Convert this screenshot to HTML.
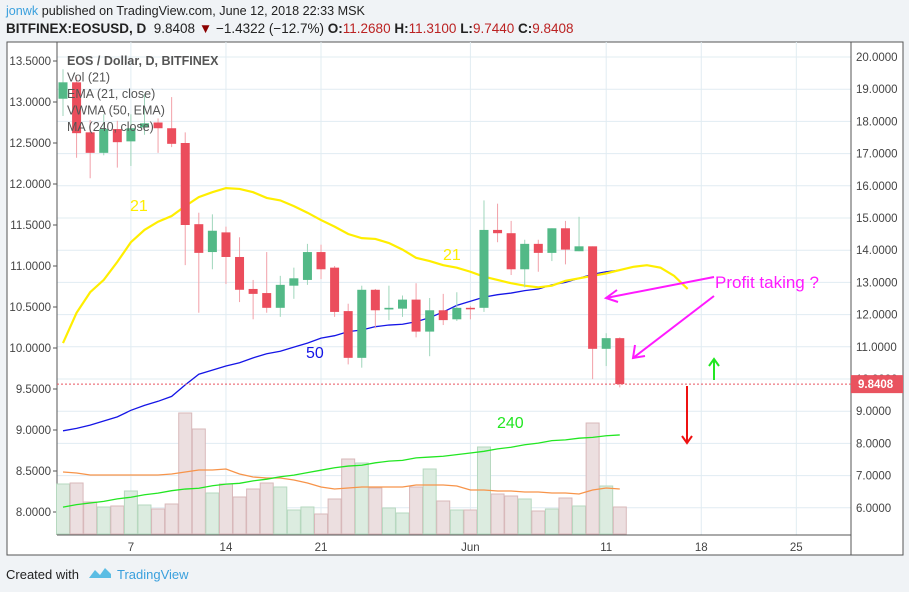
<!DOCTYPE html>
<html><head><meta charset="utf-8"><style>
body{margin:0;width:909px;height:592px;background:#f0f3f6;font-family:"Liberation Sans",sans-serif;overflow:hidden;position:relative}
.t{position:absolute;white-space:nowrap}
</style></head><body>
<div class="t" style="left:6px;top:4px;font-size:12.6px;color:#222"><span style="color:#3aa0dd">jonwk</span> published on TradingView.com, June 12, 2018 22:33 MSK</div>
<div class="t" style="left:6px;top:21px;font-size:13.5px;color:#222"><b>BITFINEX:EOSUSD, D</b>&nbsp; 9.8408 <span style="color:#8b0000">▼</span> −1.4322 (−12.7%) <b>O:</b><span style="color:#b22">11.2680</span> <b>H:</b><span style="color:#b22">11.3100</span> <b>L:</b><span style="color:#b22">9.7440</span> <b>C:</b><span style="color:#b22">9.8408</span></div>
<svg id="c" width="909" height="592" style="position:absolute;left:0;top:0" font-family="Liberation Sans, sans-serif"></svg>
<div class="t" style="left:6px;top:567px;font-size:13px;color:#222">Created with</div>
<svg style="position:absolute;left:88px;top:565px" width="24" height="16"><path d="M1 13 L7 5 L12 10 L17 3 L23 9 L23 13 Z" fill="#5bbde4"/></svg>
<div class="t" style="left:117px;top:567px;font-size:13px;color:#3aa0dd">TradingView</div>
<script>
const opens=[13.04,13.24,12.63,12.38,12.67,12.52,12.69,12.75,12.68,12.5,11.51,11.17,11.41,11.11,10.72,10.67,10.49,10.76,10.83,11.17,10.98,10.45,9.88,10.71,10.47,10.48,10.59,10.2,10.46,10.35,10.49,10.49,11.44,11.4,10.96,11.27,11.16,11.46,11.18,11.24,9.99,10.12];
const highs=[13.4,13.3,12.78,12.85,12.77,12.85,13.1,12.8,13.06,12.63,11.65,11.63,11.48,11.35,10.83,11.17,10.88,10.98,11.27,11.26,11.0,10.54,10.76,10.72,10.76,10.64,10.79,10.61,10.66,10.68,10.51,11.8,11.76,11.55,11.32,11.32,11.46,11.55,11.6,11.24,10.18,10.13];
const lows=[12.83,12.32,12.07,12.35,12.2,12.22,12.6,12.38,12.45,11.01,10.43,10.96,10.78,10.56,10.35,10.43,10.38,10.6,10.77,10.84,10.38,9.8,9.76,10.24,10.34,10.38,10.13,9.9,10.28,10.33,10.35,10.44,11.29,10.89,10.74,10.93,11.06,11.02,11.18,9.62,9.78,9.52];
const closes=[13.24,12.62,12.38,12.67,12.51,12.68,12.74,12.68,12.49,11.5,11.16,11.43,11.11,10.71,10.66,10.49,10.77,10.85,11.17,10.96,10.44,9.88,10.71,10.46,10.49,10.59,10.2,10.46,10.34,10.49,10.48,11.44,11.4,10.96,11.27,11.16,11.46,11.2,11.24,9.99,10.12,9.56];
const volumes=[51,52,33,28,29,44,30,26,31,122,106,42,51,38,46,52,48,25,28,21,36,76,72,47,27,22,48,66,34,25,25,88,41,39,36,24,26,37,29,112,49,28];
const volMA=[63,62,60,60,60,60,60,60,61,63,65,65,66,61,58,57,57,55,52,48,46,47,48,48,48,48,50,50,50,49,45,45,44,44,43,43,42,42,41,45,47,46];
const ema21=[10.06,10.43,10.68,10.83,11.05,11.29,11.44,11.54,11.61,11.73,11.84,11.9,11.95,11.94,11.9,11.83,11.8,11.73,11.65,11.56,11.48,11.39,11.34,11.33,11.28,11.2,11.1,11.06,11.01,10.98,10.93,10.87,10.83,10.79,10.76,10.74,10.76,10.82,10.85,10.88,10.91,10.95,10.99,11.01,10.98,10.88,10.72];
const vwma50=[8.99,9.02,9.06,9.11,9.16,9.24,9.3,9.35,9.41,9.55,9.68,9.73,9.78,9.82,9.88,9.93,9.96,10.01,10.06,10.12,10.15,10.2,10.22,10.26,10.28,10.29,10.32,10.37,10.44,10.52,10.57,10.62,10.65,10.67,10.7,10.72,10.77,10.8,10.85,10.9,10.93,10.95];
const ma240=[8.06,8.09,8.11,8.13,8.16,8.18,8.21,8.23,8.26,8.28,8.29,8.32,8.34,8.35,8.38,8.4,8.43,8.45,8.48,8.51,8.54,8.56,8.57,8.6,8.62,8.63,8.66,8.67,8.68,8.7,8.72,8.74,8.77,8.79,8.82,8.84,8.87,8.88,8.9,8.91,8.93,8.94];
const leftTicks=["13.5000","13.0000","12.5000","12.0000","11.5000","11.0000","10.5000","10.0000","9.5000","9.0000","8.5000","8.0000"];
const leftTickVals=[13.5,13,12.5,12,11.5,11,10.5,10,9.5,9,8.5,8];
const rightTicks=["20.0000","19.0000","18.0000","17.0000","16.0000","15.0000","14.0000","13.0000","12.0000","11.0000","10.0000","9.0000","8.0000","7.0000","6.0000"];
const rightTickVals=[20,19,18,17,16,15,14,13,12,11,10,9,8,7,6];
const dateLabels=["7","14","21","Jun","11","18","25"];
const dateIdx=[5,12,19,30,40,47,54];
const lastPrice=9.8408;

const NS="http://www.w3.org/2000/svg",svg=document.getElementById('c');
const X=i=>63+i*13.58, Y=p=>61+(13.5-p)*82, YR=p=>57+(20-p)*32.2, YV=v=>535-v;
function el(t,a,txt){const e=document.createElementNS(NS,t);for(const k in a)e.setAttribute(k,a[k]);if(txt!=null)e.textContent=txt;svg.appendChild(e);return e;}
let e;
e=el('rect',{x:7,y:42,width:896,height:513,fill:'#fff',stroke:'#555','stroke-width':1});


rightTickVals.forEach((v,k)=>{
 e=el('line',{x1:57,x2:851,y1:YR(v),y2:YR(v),stroke:'#e1ecf2'});
 
 
 e=el('text',{x:856,y:YR(v)+4,'font-size':11.5,fill:'#444'},rightTicks[k]);
 
 
});
dateIdx.forEach((d,k)=>{
 e=el('line',{x1:X(d),x2:X(d),y1:42,y2:535,stroke:'#e1ecf2'});
 
 
 e=el('text',{x:X(d),y:551,'font-size':11.5,fill:'#444','text-anchor':'middle'},dateLabels[k]);
 
 
});
leftTickVals.forEach((v,k)=>{
 e=el('text',{x:51,y:Y(v)+4,'font-size':11.5,fill:'#444','text-anchor':'end'},leftTicks[k]);
 
 
 el('line',{x1:53,x2:57,y1:Y(v),y2:Y(v),stroke:'#555'});
});
el('line',{x1:57,x2:57,y1:42,y2:535,stroke:'#555'});
el('line',{x1:57,x2:851,y1:535,y2:535,stroke:'#555'});
el('line',{x1:851,x2:851,y1:42,y2:555,stroke:'#555'});
volumes.forEach((v,i)=>{
 const up=closes[i]>=opens[i];
 e=el('rect',{x:X(i)-6.5,y:YV(v),width:13,height:v-1,fill:up?'#dcece0':'#ecdfe0',stroke:up?'#b6d8bf':'#d8b8ba','stroke-width':1});
 
 
});
function line(arr,f,col,w,name){e=el('polyline',{points:arr.map((v,i)=>X(i)+','+f(v)).join(' '),fill:'none',stroke:col,'stroke-width':w});
 
 }
line(volMA,YV,'#f7944a',1.3,'volume-ma-line');
line(ma240,Y,'#22e622',1.3,'ma240-line');
line(vwma50,Y,'#1515e6',1.3,'vwma50-line');
line(ema21,Y,'#ffee00',2.2,'ema21-line');
opens.forEach((o,i)=>{
 const c=closes[i],up=c>=o,col=up?'#53b987':'#eb4d5c';
 e=el('line',{x1:X(i),x2:X(i),y1:Y(highs[i]),y2:Y(lows[i]),stroke:up?'#9fd6bb':'#f2a0a8','stroke-width':1});
 
 
 const t=Math.min(Y(o),Y(c)),h=Math.max(1.5,Math.abs(Y(o)-Y(c)));
 e=el('rect',{x:X(i)-4.5,y:t,width:9,height:h,fill:col});
 
 
});
e=el('line',{x1:57,x2:851,y1:YR(lastPrice),y2:YR(lastPrice),stroke:'#e9535f','stroke-dasharray':'2,2'});


e=el('rect',{x:851,y:YR(lastPrice)-9,width:52,height:18,fill:'#e9535f'});


el('text',{x:858,y:YR(lastPrice)+4,'font-size':11.5,fill:'#fff','font-weight':'bold'},lastPrice.toFixed(4));
const leg=["EOS / Dollar, D, BITFINEX","Vol (21)","EMA (21, close)","VWMA (50, EMA)","MA (240, close)"];
leg.forEach((s,k)=>{e=el('text',{x:67,y:65+k*16.5,'font-size':12.5,fill:'#555','font-weight':k==0?'bold':'normal'},s);
 
 });
function lab(x,y,s,c,n,fs){e=el('text',{x:x,y:y,'font-size':fs||16,fill:c},s);
 
 }
lab(130,211,'21','#ffee00','ema21-label');
lab(443,260,'21','#ffee00','ema21-label-2');
lab(306,358,'50','#1515e6','vwma50-label');
lab(497,428,'240','#22e622','ma240-label');
lab(715,288,'Profit taking ?','#ff1aff','profit-taking-note',17);
el('path',{d:'M714 277 L606 298 M617 290 L606 298 L618 302',fill:'none',stroke:'#ff1aff','stroke-width':2});
el('path',{d:'M714 296 L633 358 M635 345 L633 358 L645 356',fill:'none',stroke:'#ff1aff','stroke-width':2});
el('path',{d:'M714 380 L714 359 M709 366 L714 359 L719 366',fill:'none',stroke:'#22e622','stroke-width':2});
el('path',{d:'M687 386 L687 443 M682 436 L687 443 L692 436',fill:'none',stroke:'#ee1111','stroke-width':2});
</script>
</body></html>
